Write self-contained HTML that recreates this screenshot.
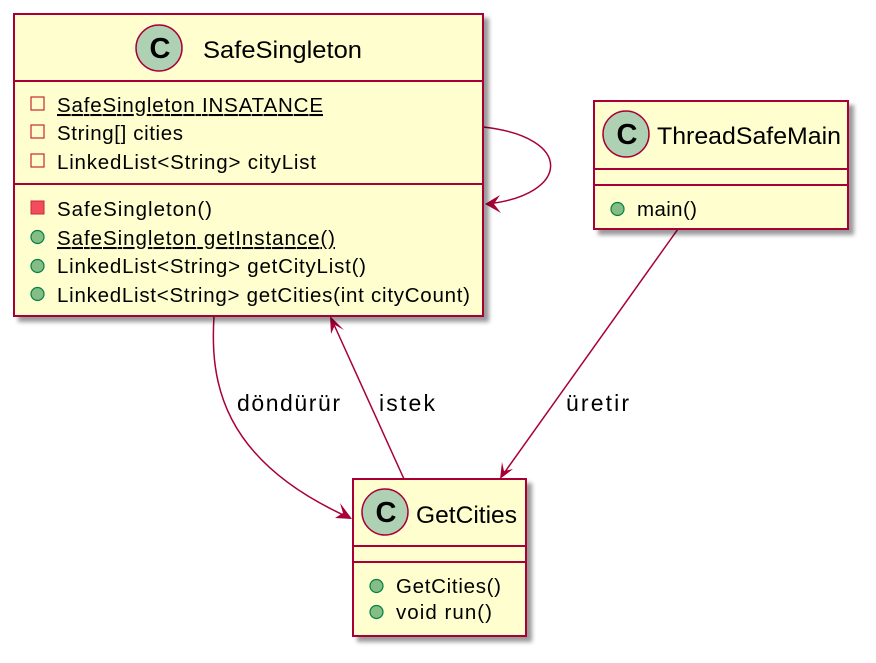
<!DOCTYPE html>
<html><head><meta charset="utf-8"><style>body{margin:0;background:#fff}svg{display:block}text{font-family:"Liberation Sans",sans-serif;fill:#000}</style></head><body>
<svg width="876" height="663" viewBox="0 0 876 663" xmlns="http://www.w3.org/2000/svg">
<defs><filter id="sh" x="-10%" y="-10%" width="130%" height="130%"><feGaussianBlur in="SourceAlpha" stdDeviation="2"/><feOffset dx="5" dy="5"/><feComponentTransfer><feFuncA type="linear" slope="0.4"/></feComponentTransfer><feMerge><feMergeNode/><feMergeNode in="SourceGraphic"/></feMerge></filter></defs>
<g stroke="#A80036" stroke-width="1.5" fill="none">
<path d="M483,127 C575,137 570,195 487,204"/>
<path d="M214,316 C210,380 220,460 350,518"/>
<path d="M404,479 L331,318"/>
<path d="M678,229 L502,476"/>
</g>
<g fill="#A80036">
<polygon points="485,204 500,195 494,204 501,213"/>
<polygon points="352,519 335,518 343,513 340,503"/>
<polygon points="330,316 331,334 335,325 344,330"/>
<polygon points="500,479 502,462 504,471 513,469"/>
</g>
<g font-size="23" lengthAdjust="spacingAndGlyphs">
<text x="237" y="411" textLength="103">döndürür</text><text x="379" y="411" textLength="56">istek</text><text x="566" y="411" textLength="63">üretir</text>
</g>
<g filter="url(#sh)">
<rect x="14" y="14" width="469" height="302" fill="#FEFECE" stroke="#A80036" stroke-width="2"/>
<rect x="594" y="101" width="254" height="128" fill="#FEFECE" stroke="#A80036" stroke-width="2"/>
<rect x="353" y="479" width="173" height="157" fill="#FEFECE" stroke="#A80036" stroke-width="2"/>
</g>
<g stroke="#A80036" stroke-width="2">
<line x1="14" y1="81" x2="483" y2="81"/><line x1="14" y1="184" x2="483" y2="184"/>
<line x1="594" y1="169" x2="848" y2="169"/><line x1="594" y1="185" x2="848" y2="185"/>
<line x1="353" y1="546" x2="526" y2="546"/><line x1="353" y1="562" x2="526" y2="562"/>
</g>
<g fill="#ADD1B2" stroke="#A80036" stroke-width="1.5">
<circle cx="159" cy="48" r="23"/><circle cx="626" cy="134" r="23"/><circle cx="385" cy="512" r="23"/>
</g>
<g font-size="29" font-weight="bold" text-anchor="middle">
<text x="160" y="58">C</text><text x="627" y="144">C</text><text x="386" y="522">C</text>
</g>
<g font-size="24.5">
<text x="203" y="58" textLength="159" lengthAdjust="spacingAndGlyphs">SafeSingleton</text>
<text x="657" y="144" textLength="184" lengthAdjust="spacingAndGlyphs">ThreadSafeMain</text>
<text x="416" y="523" textLength="101" lengthAdjust="spacingAndGlyphs">GetCities</text>
</g>
<g fill="none" stroke="#C82930" stroke-width="1.2">
<rect x="31" y="97" width="13" height="13"/><rect x="31" y="125" width="13" height="13"/><rect x="31" y="154" width="13" height="13"/>
</g>
<rect x="31" y="201" width="13" height="13" fill="#F24D5C" stroke="#C82930"/>
<g fill="#84BE84" stroke="#038048" stroke-width="1.2">
<circle cx="37.5" cy="237" r="6.5"/><circle cx="37.5" cy="266" r="6.5"/><circle cx="37.5" cy="294" r="6.5"/>
<circle cx="617.5" cy="209" r="6.5"/><circle cx="376.5" cy="586" r="6.5"/><circle cx="376.5" cy="612" r="6.5"/>
</g>
<g font-size="20.5" lengthAdjust="spacingAndGlyphs">
<text x="57" y="112" textLength="266" text-decoration="underline">SafeSingleton INSATANCE</text>
<text x="57" y="140" textLength="126">String[] cities</text>
<text x="57" y="169" textLength="259">LinkedList&lt;String&gt; cityList</text>
<text x="57" y="216" textLength="155">SafeSingleton()</text>
<text x="57" y="245" textLength="278" text-decoration="underline">SafeSingleton getInstance()</text>
<text x="57" y="273" textLength="309">LinkedList&lt;String&gt; getCityList()</text>
<text x="57" y="302" textLength="413">LinkedList&lt;String&gt; getCities(int cityCount)</text>
<text x="637" y="216" textLength="60">main()</text>
<text x="396" y="593" textLength="105">GetCities()</text>
<text x="396" y="619" textLength="96">void run()</text>
</g>
</svg>
</body></html>
